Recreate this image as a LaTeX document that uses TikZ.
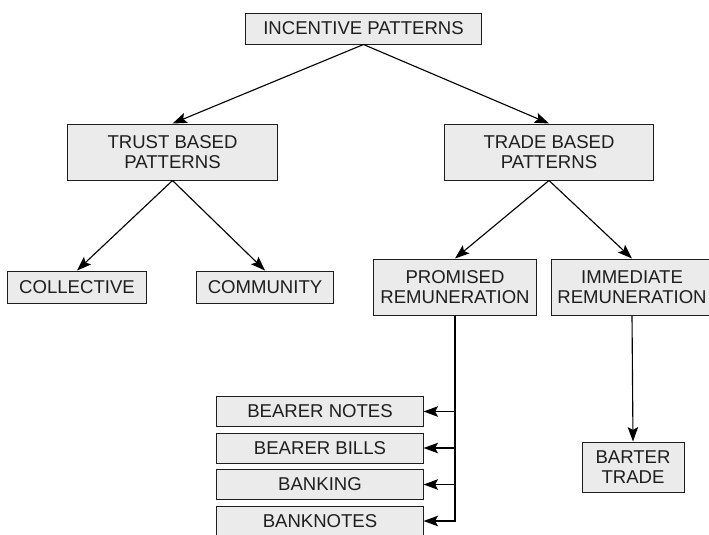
\documentclass[tikz,border=0pt]{standalone}
\usepackage{fontspec}
\setmainfont{Liberation Sans}
\usepackage{xcolor}
\usetikzlibrary{arrows.meta,positioning}
\definecolor{boxfill}{RGB}{235,235,235}
\definecolor{boxline}{RGB}{30,30,30}

\begin{document}
\begin{tikzpicture}[x=0.025cm,y=-0.025cm,font=\fontsize{13.2}{14.2}\selectfont]
\useasboundingbox (0,0) rectangle (709,534);
\clip (0,0) rectangle (709,534);
\tikzset{box/.style={draw=boxline,fill=boxfill,line width=0.7pt,inner sep=0pt,align=center,text=boxline}}
\tikzset{link/.style={-{Stealth[length=3.6mm,width=2.6mm,inset=0.7mm]},line width=0.8pt}}
\tikzset{feed/.style={-{Stealth[length=3.6mm,width=2.6mm,inset=0.7mm]},line width=1.3pt}}
% upper levels
\node[box,minimum width=5.875cm,minimum height=0.775cm] (incentive) at (363.5,28.5) {INCENTIVE PATTERNS};
\node[box,minimum width=5.225cm,minimum height=1.4cm] (trust) at (172.5,152) {TRUST BASED\\PATTERNS};
\node[box,minimum width=5.2cm,minimum height=1.4cm] (trade) at (549,152) {TRADE BASED\\PATTERNS};
\node[box,minimum width=3.45cm,minimum height=0.8cm] (collective) at (77,287) {COLLECTIVE};
\node[box,minimum width=3.4cm,minimum height=0.8cm] (community) at (265,287) {COMMUNITY};
\node[box,minimum width=4.05cm,minimum height=1.4cm] (promised) at (455,287) {PROMISED\\REMUNERATION};
\node[box,minimum width=4.0cm,minimum height=1.4cm] (immediate) at (632,287) {IMMEDIATE\\REMUNERATION};
\node[box,minimum width=2.55cm,minimum height=1.25cm] (barter) at (633,467) {BARTER\\TRADE};
\draw[link] (incentive.south) -- (trust.north);
\draw[link] (incentive.south) -- (trade.north);
\draw[link] (trust.south) -- (collective.north);
\draw[link] (trust.south) -- (community.north);
\draw[link] (trade.south) -- (promised.north);
\draw[link] (trade.south) -- (immediate.north);
\draw[link] (immediate.south) -- (barter.north);
% promised remuneration forms
\foreach \name/\txt/\y in {notes/BEARER NOTES/411.5, bills/BEARER BILLS/448, banking/BANKING/484.5, banknotes/BANKNOTES/521} {
  \node[box,minimum width=5.15cm,minimum height=0.75cm] (\name) at (320,\y) {\txt};
  \draw[feed] (promised.south) |- (\name.east);
}
\end{tikzpicture}
\end{document}
